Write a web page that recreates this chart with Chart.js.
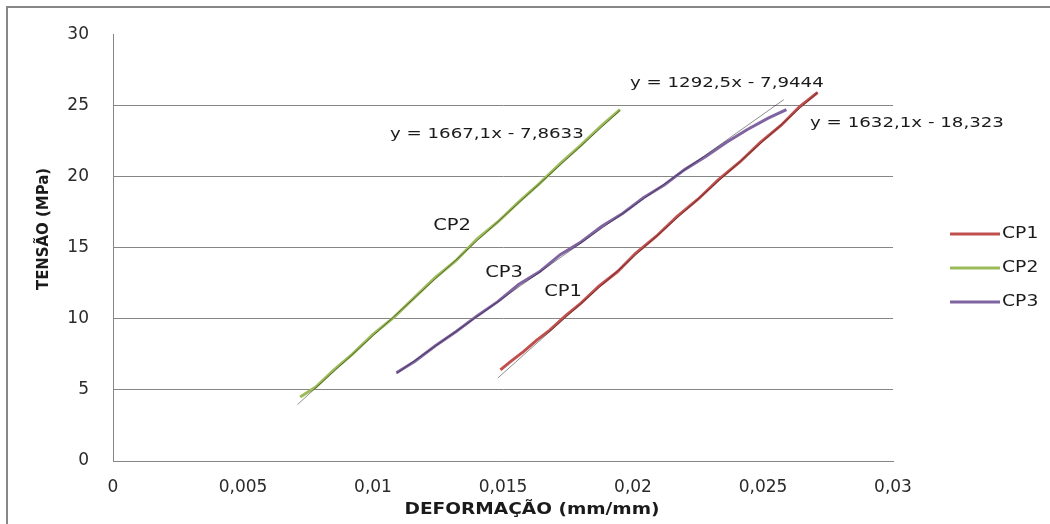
<!DOCTYPE html>
<html>
<head>
<meta charset="utf-8">
<script src="https://cdn.jsdelivr.net/npm/chart.js@4.4.0/dist/chart.umd.min.js"></script>
<style>
  html, body { margin: 0; padding: 0; background: #fff; }
</style>
</head>
<body>
<canvas id="chart" width="1050" height="524"></canvas>
<script>
// values (strain mm/mm vs stress MPa)
const cp1X = [0.0149, 0.0153, 0.0158, 0.0163, 0.0168, 0.0174, 0.0180, 0.0187, 0.0194, 0.0201, 0.0209, 0.0217, 0.0225, 0.0233, 0.0241, 0.0249, 0.0257, 0.0264, 0.0271];
const cp1Y = [6.4, 7.0, 7.7, 8.5, 9.2, 10.2, 11.1, 12.3, 13.3, 14.6, 15.8, 17.2, 18.4, 19.8, 21.0, 22.4, 23.6, 24.9, 25.9];

const cp2X = [0.0072, 0.0078, 0.0085, 0.0092, 0.0100, 0.0108, 0.0116, 0.0124, 0.0132, 0.0140, 0.0148, 0.0156, 0.0164, 0.0172, 0.0180, 0.0188, 0.0195];
const cp2Y = [4.5, 5.2, 6.4, 7.5, 8.9, 10.1, 11.5, 12.9, 14.1, 15.6, 16.8, 18.2, 19.5, 20.9, 22.2, 23.6, 24.7];

const cp3X = [0.0109, 0.0116, 0.0124, 0.0132, 0.0140, 0.0148, 0.0156, 0.0164, 0.0172, 0.0180, 0.0188, 0.0196, 0.0204, 0.0212, 0.0220, 0.0228, 0.0236, 0.0244, 0.0252, 0.0259];
const cp3Y = [6.2, 7.0, 8.1, 9.1, 10.2, 11.2, 12.4, 13.3, 14.5, 15.4, 16.5, 17.4, 18.5, 19.4, 20.5, 21.4, 22.4, 23.3, 24.1, 24.7];

const seriesNames = ['CP1', 'CP2', 'CP3'];
const seriesColors = ['#C0504D', '#9BBB59', '#8064A2'];

// linear trendlines (Excel) and the range they cover
const trendSlope = [1632.1, 1667.1, 1292.5];
const trendIntercept = [-18.323, -7.8633, -7.9444];
const trendFrom = [0.0148, 0.0071, 0.0109];
const trendTo = [0.0271, 0.0195, 0.0258];
const trendText = ['y = 1632,1x - 18,323', 'y = 1667,1x - 7,8633', 'y = 1292,5x - 7,9444'];

const xTickLabels = ['0', '0,005', '0,01', '0,015', '0,02', '0,025', '0,03'];
const yTickLabels = ['0', '5', '10', '15', '20', '25', '30'];

// where the text notes sit, in data units
const eqPos = [[0.02681, 23.76], [0.01065, 22.98], [0.01988, 26.56]];
const namePos = [[0.01731, 11.91], [0.01304, 16.54], [0.01504, 13.24]];

const zip = (xs, ys) => xs.map((x, i) => ({ x: x, y: ys[i] }));
const seriesData = [zip(cp1X, cp1Y), zip(cp2X, cp2Y), zip(cp3X, cp3Y)];

const datasets = [];
seriesNames.forEach((name, i) => {
  datasets.push({
    label: name,
    data: seriesData[i],
    showLine: true,
    borderColor: seriesColors[i],
    backgroundColor: seriesColors[i],
    borderWidth: 3,
    pointRadius: 0,
    tension: 0,
    order: 1
  });
});
seriesNames.forEach((name, i) => {
  datasets.push({
    label: 'trend ' + name,
    data: [
      { x: trendFrom[i], y: trendSlope[i] * trendFrom[i] + trendIntercept[i] },
      { x: trendTo[i], y: trendSlope[i] * trendTo[i] + trendIntercept[i] }
    ],
    showLine: true,
    borderColor: 'rgba(0,0,0,0.75)',
    borderWidth: 0.6,
    pointRadius: 0,
    order: 0
  });
});

function stretchText(ctx, text, x, y, font, sx, align, angle) {
  ctx.save();
  ctx.font = font;
  ctx.textBaseline = 'middle';
  ctx.textAlign = align;
  ctx.translate(x, y);
  if (angle) ctx.rotate(angle);
  ctx.scale(sx, 1);
  ctx.fillText(text, 0, 0);
  ctx.restore();
}

function fitText(ctx, text, x, y, font, width, angle) {
  ctx.save();
  ctx.font = font;
  const w = ctx.measureText(text).width;
  ctx.restore();
  stretchText(ctx, text, x, y, font, width / w, 'center', angle);
}

const decor = {
  id: 'decor',
  beforeDraw(chart) {
    const ctx = chart.ctx;
    ctx.save();
    ctx.strokeStyle = '#878787';
    ctx.lineWidth = 2;
    ctx.beginPath();
    ctx.moveTo(7, 524);
    ctx.lineTo(7, 7);
    ctx.lineTo(1050, 7);
    ctx.stroke();
    ctx.restore();
  },
  afterDraw(chart) {
    const ctx = chart.ctx;
    const xs = chart.scales.x, ys = chart.scales.y;
    ctx.save();
    ctx.fillStyle = '#1a1a1a';
    trendText.forEach((t, i) => {
      stretchText(ctx, t, xs.getPixelForValue(eqPos[i][0]), ys.getPixelForValue(eqPos[i][1]),
        '14px "DejaVu Sans"', 1.3, 'left');
    });
    seriesNames.forEach((n, i) => {
      stretchText(ctx, n, xs.getPixelForValue(namePos[i][0]), ys.getPixelForValue(namePos[i][1]),
        '16px "DejaVu Sans"', 1.22, 'center');
    });
    // legend
    seriesNames.forEach((n, i) => {
      const ly = 234 + i * 34;
      ctx.strokeStyle = seriesColors[i];
      ctx.lineWidth = 3;
      ctx.beginPath();
      ctx.moveTo(950, ly);
      ctx.lineTo(1000, ly);
      ctx.stroke();
      ctx.fillStyle = '#1a1a1a';
      stretchText(ctx, n, 1002, ly, '15px "DejaVu Sans"', 1.25, 'left');
    });
    // axis titles
    fitText(ctx, 'DEFORMAÇÃO (mm/mm)', 532, 510, 'bold 16px "DejaVu Sans Condensed", "DejaVu Sans"', 255);
    fitText(ctx, 'TENSÃO (MPa)', 44, 229, 'bold 16px "DejaVu Sans Condensed", "DejaVu Sans"', 122, -Math.PI / 2);
    ctx.restore();
  }
};

new Chart(document.getElementById('chart'), {
  type: 'scatter',
  data: { datasets: datasets },
  options: {
    responsive: false,
    devicePixelRatio: 1,
    animation: false,
    layout: { padding: { left: 0, top: 34, right: 157, bottom: 0 } },
    plugins: {
      legend: { display: false },
      tooltip: { enabled: false }
    },
    scales: {
      x: {
        type: 'linear',
        min: 0,
        max: 0.03,
        afterFit(scale) { scale.height = 63; },
        afterBuildTicks(scale) {
          scale.ticks = xTickLabels.map((l, i) => ({ value: i * 0.005 }));
        },
        grid: { display: false, drawTicks: false },
        border: { display: true, color: '#868686', width: 1 },
        ticks: {
          padding: 16,
          color: '#2a2a2a',
          font: { family: '"DejaVu Sans"', size: 17 },
          maxRotation: 0,
          autoSkip: false,
          callback: (v, i) => xTickLabels[i]
        }
      },
      y: {
        type: 'linear',
        min: 0,
        max: 30,
        afterFit(scale) { scale.width = 113; },
        afterBuildTicks(scale) {
          scale.ticks = yTickLabels.map(l => ({ value: Number(l) }));
        },
        grid: {
          drawTicks: false,
          color: ctx => (ctx.tick && ctx.tick.value === 30 ? 'rgba(0,0,0,0)' : '#868686'),
          lineWidth: 1
        },
        border: { display: true, color: '#868686', width: 1 },
        ticks: {
          padding: 24,
          color: '#2a2a2a',
          font: { family: '"DejaVu Sans"', size: 17 },
          autoSkip: false,
          callback: (v, i) => yTickLabels[i]
        }
      }
    }
  },
  plugins: [decor]
});
</script>
</body>
</html>
